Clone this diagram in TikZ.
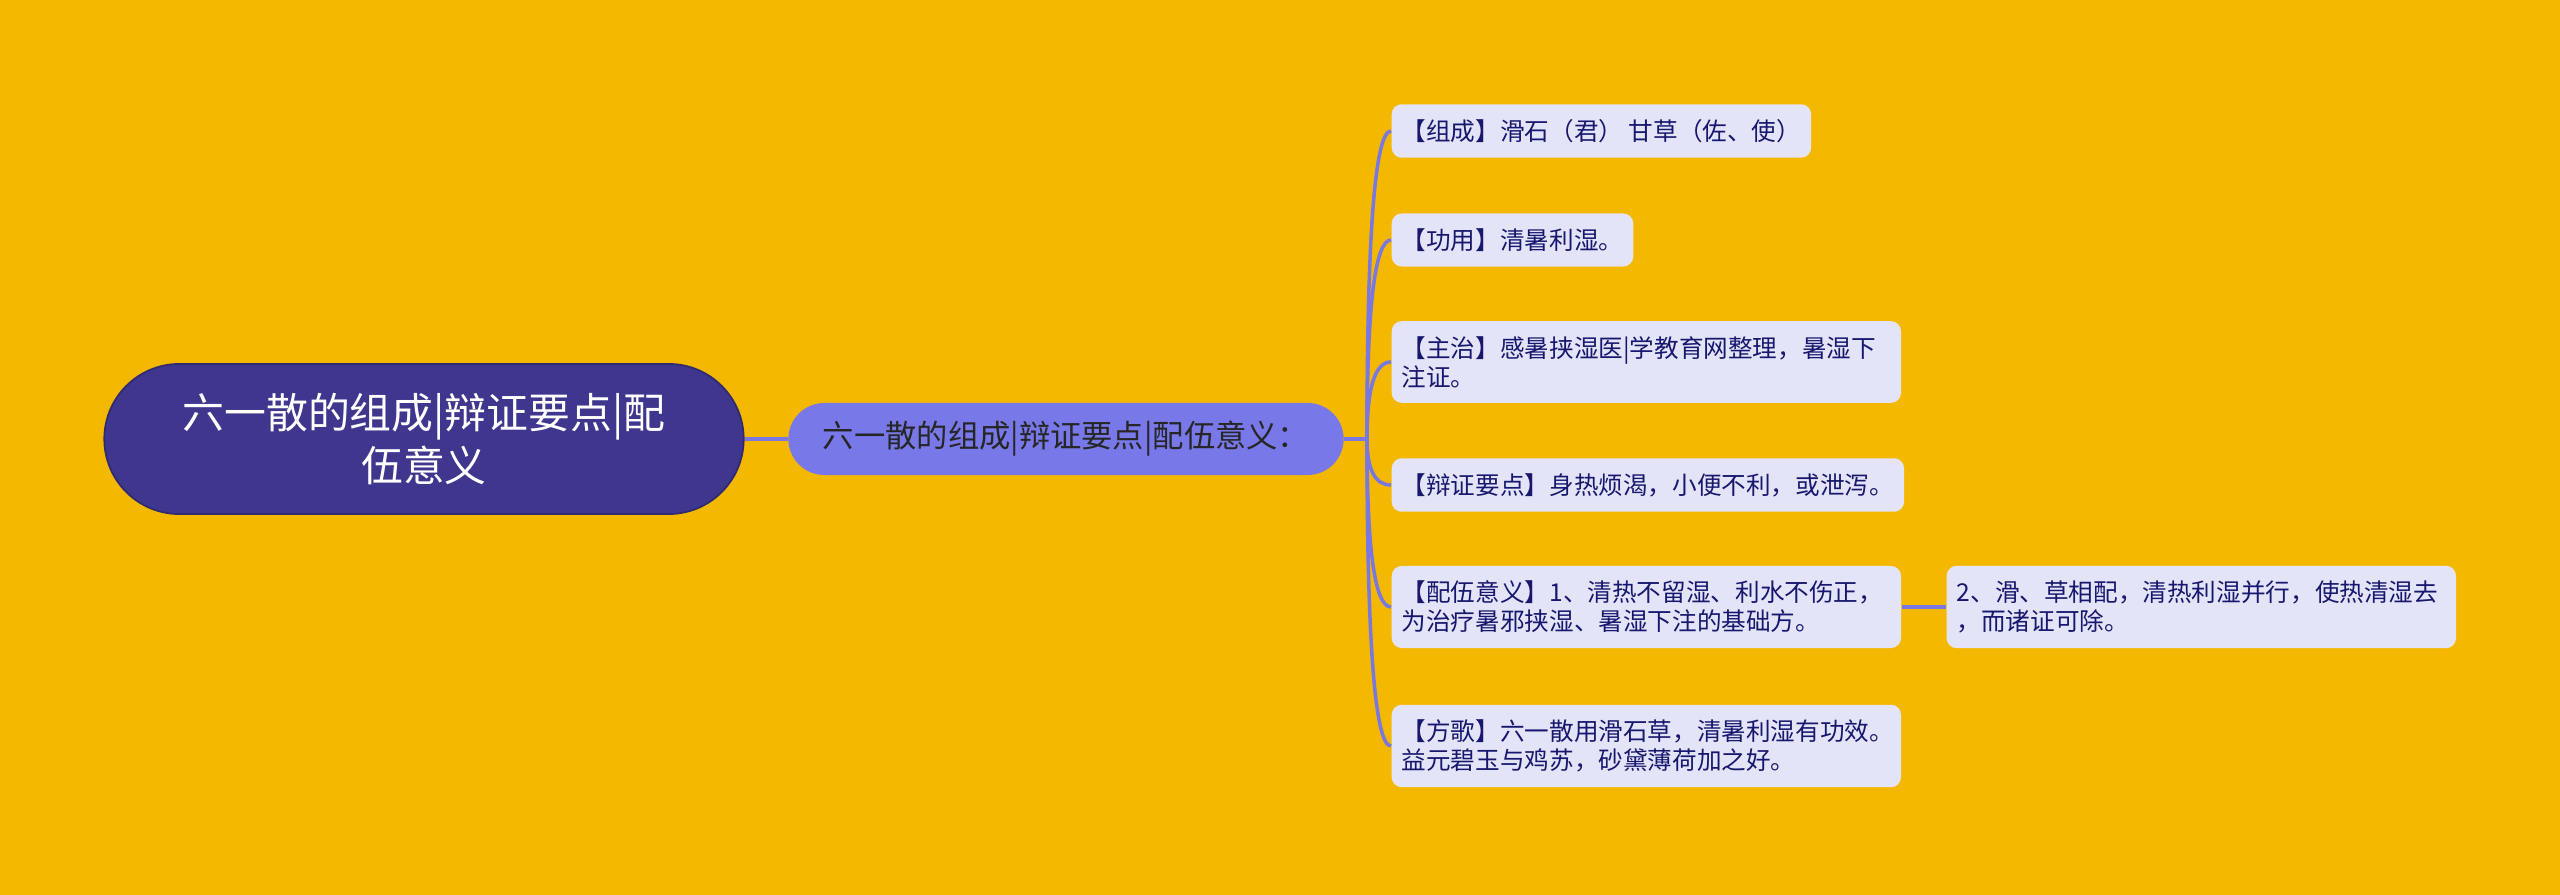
\documentclass[tikz,border=0pt]{standalone}
\usepackage{fontspec}
\newfontfamily\cjk{Noto Sans CJK SC}
\usetikzlibrary{calc}
\definecolor{bgyellow}{HTML}{F5B800}
\definecolor{rootfill}{HTML}{3F378E}
\definecolor{rootline}{HTML}{302A70}
\definecolor{midfill}{HTML}{7878E8}
\definecolor{leaffill}{HTML}{E4E4F8}
\definecolor{leaftext}{HTML}{17176E}
\definecolor{linkcol}{HTML}{7878E0}

\begin{document}
\begin{tikzpicture}[x=0.01cm, y=-0.01cm,
  rootbox/.style={draw=rootline, line width=0.5pt, fill=rootfill, text=white,
    rounded corners=0.75cm, minimum width=6.39cm, minimum height=1.5cm,
    align=center, font=\cjk\fontsize{11.9pt}{14.8pt}\selectfont},
  midbox/.style={fill=midfill, text=black!85, rounded corners=0.36cm,
    minimum width=5.55cm, minimum height=0.72cm,
    font=\cjk\fontsize{8.9pt}{10pt}\selectfont},
  leafbox/.style={fill=leaffill, text=leaftext, rounded corners=0.1cm,
    anchor=west, inner xsep=0.1cm, inner ysep=0.15cm, minimum height=0.53cm,
    align=left, font=\cjk\fontsize{7pt}{8.25pt}\selectfont},
  widebox/.style={leafbox, text width=4.89cm},
  link/.style={draw=linkcol, line width=1pt}]
\fill[bgyellow] (0,0) rectangle (2560,895);
\useasboundingbox (0,0) rectangle (2560,895);

\node[rootbox] (root) at (424,439) {六一散的组成|辩证要点|配\\伍意义};
\node[midbox] (mid) at (1066,439) {六一散的组成|辩证要点|配伍意义：};
\coordinate (hub) at (1367,439);

\node[leafbox] (zucheng) at (1391,131) {【组成】滑石（君） 甘草（佐、使）};
\node[leafbox] (gongyong) at (1391,240) {【功用】清暑利湿。};
\node[widebox] (zhuzhi) at (1391,362) {【主治】感暑挟湿医|学教育网整理，暑湿下\\注证。};
\node[leafbox] (bianzheng) at (1391,485) {【辩证要点】身热烦渴，小便不利，或泄泻。};
\node[widebox] (peiwu) at (1391,607) {【配伍意义】1、清热不留湿、利水不伤正，\\为治疗暑邪挟湿、暑湿下注的基础方。};
\node[widebox] (fangge) at (1391,746) {【方歌】六一散用滑石草，清暑利湿有功效。\\益元碧玉与鸡苏，砂黛薄荷加之好。};
\node[widebox] (peiwu2) at (1946,607) {2、滑、草相配，清热利湿并行，使热清湿去\\，而诸证可除。};

\draw[link] (root) -- (mid);
\draw[link] (mid) -- (hub);
\foreach \n in {zucheng,gongyong,zhuzhi,bianzheng,peiwu,fangge}
  \draw[link] (hub) .. controls ($(hub)!0.667!(hub |- \n.west)$)
    and ($(\n.west)!0.667!(hub |- \n.west)$) .. (\n.west);
\draw[link] (peiwu) -- (peiwu2);
\end{tikzpicture}
\end{document}
